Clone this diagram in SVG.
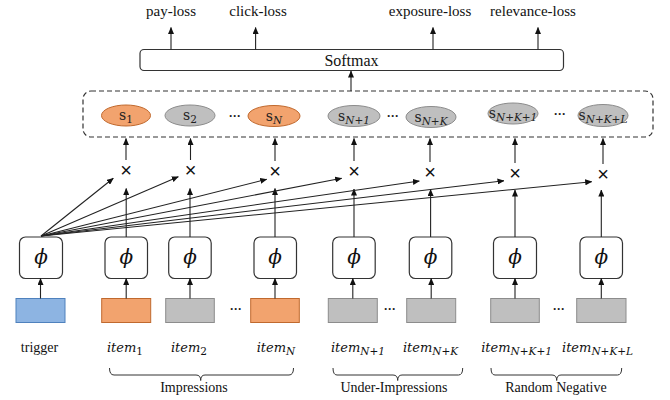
<svg xmlns="http://www.w3.org/2000/svg" width="670" height="400" viewBox="0 0 670 400">
<defs>
<marker id="ah" markerWidth="7" markerHeight="6" refX="6.5" refY="3" orient="auto" markerUnits="userSpaceOnUse">
<path d="M0,0 L7,3 L0,6 Z" fill="#111"/>
</marker>
<style>
.lbl{font-family:"Liberation Serif",serif;font-size:15px;fill:#111}
.cap{font-family:"Liberation Serif",serif;font-size:14px;fill:#111}
.math{font-family:"DejaVu Serif","Liberation Serif",serif;font-style:italic;font-size:13px;fill:#111}
.sl{font-family:"DejaVu Serif","Liberation Serif",serif;font-size:14px;fill:#222}
.sub{font-size:10.5px;font-style:italic}
.subn{font-size:10.5px}
.x{font-family:"Liberation Sans",sans-serif;font-size:20px;fill:#111}
.dots{font-family:"Liberation Sans",sans-serif;font-size:12px;fill:#222;font-weight:bold}
.phi{fill:#fff;stroke:#333;stroke-width:1.2}
.phit{font-family:"DejaVu Serif","Liberation Serif",serif;font-style:italic;font-size:20px;fill:#111}
.or{fill:#F2A36E;stroke:#C0692E;stroke-width:1}
.gr{fill:#BFBFBF;stroke:#8C8C8C;stroke-width:1}
.bl{fill:#8DB4E2;stroke:#4F81BD;stroke-width:1}
.ar{stroke:#222;stroke-width:1.1;fill:none;marker-end:url(#ah)}
.br{stroke:#333;stroke-width:1;fill:none}
</style>
</defs>

<g id="losses">
<text class="lbl" x="171" y="16" text-anchor="middle">pay-loss</text>
<text class="lbl" x="258" y="16" text-anchor="middle">click-loss</text>
<text class="lbl" x="430" y="16" text-anchor="middle">exposure-loss</text>
<text class="lbl" x="533" y="16" text-anchor="middle">relevance-loss</text>
</g>

<g id="softmax">
<rect x="140" y="49.5" width="423.5" height="21" rx="4" fill="#fff" stroke="#333" stroke-width="1.2"/>
<text class="lbl" x="351.5" y="65.5" text-anchor="middle" style="font-size:16px">Softmax</text>
</g>

<g id="scores">
<rect x="83" y="91" width="570" height="46" rx="8" fill="none" stroke="#333" stroke-width="1.2" stroke-dasharray="5,3"/>
<ellipse class="or" cx="126" cy="115.5" rx="24.5" ry="10.5"/>
<text class="sl" x="126" y="120" text-anchor="middle">s<tspan class="subn" dy="3">1</tspan></text>
<ellipse class="gr" cx="190" cy="115.5" rx="25" ry="10.5"/>
<text class="sl" x="190" y="120" text-anchor="middle">s<tspan class="subn" dy="3">2</tspan></text>
<text class="dots" x="235" y="120" text-anchor="middle">···</text>
<ellipse class="or" cx="274" cy="116" rx="26" ry="10.5"/>
<text class="sl" x="274" y="120.5" text-anchor="middle">s<tspan class="sub" dy="3">N</tspan></text>
<ellipse class="gr" cx="354" cy="116" rx="26" ry="10.5"/>
<text class="sl" x="354" y="120.5" text-anchor="middle">s<tspan class="sub" dy="3">N+1</tspan></text>
<text class="dots" x="393" y="120" text-anchor="middle">···</text>
<ellipse class="gr" cx="431" cy="117" rx="25" ry="10.5"/>
<text class="sl" x="431" y="121.5" text-anchor="middle">s<tspan class="sub" dy="3">N+K</tspan></text>
<ellipse class="gr" cx="513" cy="113.5" rx="25" ry="10.5"/>
<text class="sl" x="513" y="118" text-anchor="middle">s<tspan class="sub" dy="3">N+K+1</tspan></text>
<text class="dots" x="560" y="118" text-anchor="middle">···</text>
<ellipse class="gr" cx="603" cy="115.5" rx="25" ry="11"/>
<text class="sl" x="603" y="120" text-anchor="middle">s<tspan class="sub" dy="3">N+K+L</tspan></text>
</g>

<g id="crosses">
<text class="x" x="126" y="177" text-anchor="middle">×</text>
<text class="x" x="190.5" y="177" text-anchor="middle">×</text>
<text class="x" x="275" y="178" text-anchor="middle">×</text>
<text class="x" x="354" y="178" text-anchor="middle">×</text>
<text class="x" x="430" y="179" text-anchor="middle">×</text>
<text class="x" x="515" y="180" text-anchor="middle">×</text>
<text class="x" x="603" y="181" text-anchor="middle">×</text>
</g>

<g id="phi-trigger"><rect class="phi" x="19.5" y="237" width="43" height="41.5" rx="6"/><text class="phit" x="41" y="264" text-anchor="middle">ϕ</text></g>
<g id="phi-1"><rect class="phi" x="105" y="237" width="42.5" height="41.5" rx="6"/><text class="phit" x="126.2" y="264" text-anchor="middle">ϕ</text></g>
<g id="phi-2"><rect class="phi" x="168.7" y="237" width="42.5" height="41.5" rx="6"/><text class="phit" x="190" y="264" text-anchor="middle">ϕ</text></g>
<g id="phi-N"><rect class="phi" x="254" y="237" width="42.5" height="41.5" rx="6"/><text class="phit" x="275" y="264" text-anchor="middle">ϕ</text></g>
<g id="phi-N1"><rect class="phi" x="332.7" y="237" width="42.5" height="41.5" rx="6"/><text class="phit" x="354" y="264" text-anchor="middle">ϕ</text></g>
<g id="phi-NK"><rect class="phi" x="409.3" y="237" width="42.5" height="41.5" rx="6"/><text class="phit" x="430.6" y="264" text-anchor="middle">ϕ</text></g>
<g id="phi-NK1"><rect class="phi" x="493.5" y="237" width="43" height="41.5" rx="6"/><text class="phit" x="515" y="264" text-anchor="middle">ϕ</text></g>
<g id="phi-NKL"><rect class="phi" x="580" y="237" width="42.5" height="41.5" rx="6"/><text class="phit" x="601.3" y="264" text-anchor="middle">ϕ</text></g>

<g id="items">
<rect class="bl" x="16" y="298.5" width="49" height="24"/>
<rect class="or" x="101.7" y="298.5" width="49" height="24"/>
<rect class="gr" x="165.7" y="298.5" width="48.6" height="24"/>
<text class="dots" x="236" y="313" text-anchor="middle">···</text>
<rect class="or" x="250.7" y="298.5" width="48.6" height="24"/>
<rect class="gr" x="328.3" y="298.5" width="49" height="24"/>
<text class="dots" x="390" y="313" text-anchor="middle">···</text>
<rect class="gr" x="406.7" y="298.5" width="49" height="24"/>
<rect class="gr" x="490.7" y="298.5" width="48.6" height="24"/>
<text class="dots" x="559" y="313" text-anchor="middle">···</text>
<rect class="gr" x="576.7" y="298.5" width="49.3" height="24"/>
</g>

<g id="labels">
<text class="cap" x="39.5" y="352" text-anchor="middle">trigger</text>
<text class="math" x="125" y="352" text-anchor="middle">item<tspan class="subn" dy="3" style="font-style:normal">1</tspan></text>
<text class="math" x="189" y="352" text-anchor="middle">item<tspan class="subn" dy="3" style="font-style:normal">2</tspan></text>
<text class="math" x="276" y="352" text-anchor="middle">item<tspan class="sub" dy="3">N</tspan></text>
<text class="math" x="358" y="352" text-anchor="middle">item<tspan class="sub" dy="3">N+1</tspan></text>
<text class="math" x="430.5" y="352" text-anchor="middle">item<tspan class="sub" dy="3">N+K</tspan></text>
<text class="math" x="516.5" y="352" text-anchor="middle">item<tspan class="sub" dy="3">N+K+1</tspan></text>
<text class="math" x="597.5" y="352" text-anchor="middle">item<tspan class="sub" dy="3">N+K+L</tspan></text>
<text class="cap" x="194" y="392" text-anchor="middle">Impressions</text>
<text class="cap" x="394" y="392" text-anchor="middle">Under-Impressions</text>
<text class="cap" x="556" y="392" text-anchor="middle">Random Negative</text>
</g>

<g id="braces">
<path class="br" d="M109.5,368 Q109.5,375 114,375 L196,375 Q200.7,375 200.7,380.5 Q200.7,375 205,375 L289,375 Q293.5,375 293.5,368"/>
<path class="br" d="M333,368 Q333,375 337,375 L393,375 Q397.7,375 397.7,380.5 Q397.7,375 402,375 L458.5,375 Q462.7,375 462.7,368"/>
<path class="br" d="M491,368 Q491,375 495,375 L552,375 Q556.7,375 556.7,380.5 Q556.7,375 561,375 L617.5,375 Q621.7,375 621.7,368"/>
</g>

<g id="connectors">
<line class="ar" x1="171" y1="49.5" x2="171" y2="27.5"/>
<line class="ar" x1="255.6" y1="49.5" x2="255.6" y2="27.5"/>
<line class="ar" x1="433" y1="49.5" x2="433" y2="27.5"/>
<line class="ar" x1="538" y1="49.5" x2="538" y2="27.5"/>
<line class="ar" x1="351" y1="91" x2="351" y2="71"/>

<line class="ar" x1="126" y1="160" x2="126" y2="138.5"/>
<line class="ar" x1="190.5" y1="160" x2="190.5" y2="138.5"/>
<line class="ar" x1="275" y1="161" x2="275" y2="138.5"/>
<line class="ar" x1="354" y1="161" x2="354" y2="138.5"/>
<line class="ar" x1="430" y1="162" x2="430" y2="138.5"/>
<line class="ar" x1="515" y1="163" x2="515" y2="138.5"/>
<line class="ar" x1="603" y1="164" x2="603" y2="138.5"/>

<line class="ar" x1="126.2" y1="237" x2="126.2" y2="188.5"/>
<line class="ar" x1="190" y1="237" x2="190" y2="188.5"/>
<line class="ar" x1="275" y1="237" x2="275" y2="188.5"/>
<line class="ar" x1="354" y1="237" x2="354" y2="189"/>
<line class="ar" x1="430.6" y1="237" x2="430.6" y2="189.5"/>
<line class="ar" x1="515" y1="237" x2="515" y2="190"/>
<line class="ar" x1="601.3" y1="237" x2="601.3" y2="190"/>

<line class="ar" x1="41" y1="236" x2="113.3" y2="178.3"/>
<line class="ar" x1="41" y1="236" x2="178.3" y2="176.7"/>
<line class="ar" x1="41" y1="236" x2="266.7" y2="179.3"/>
<line class="ar" x1="41" y1="236" x2="341.7" y2="178.3"/>
<line class="ar" x1="41" y1="236" x2="419.3" y2="181"/>
<line class="ar" x1="41" y1="236" x2="504" y2="180.7"/>
<line class="ar" x1="41" y1="236" x2="591.7" y2="181.7"/>

<line class="ar" x1="40.5" y1="298.5" x2="40.5" y2="278.5"/>
<line class="ar" x1="126.2" y1="298.5" x2="126.2" y2="278.5"/>
<line class="ar" x1="190" y1="298.5" x2="190" y2="278.5"/>
<line class="ar" x1="275" y1="298.5" x2="275" y2="278.5"/>
<line class="ar" x1="352.8" y1="298.5" x2="352.8" y2="278.5"/>
<line class="ar" x1="431.2" y1="298.5" x2="431.2" y2="278.5"/>
<line class="ar" x1="515" y1="298.5" x2="515" y2="278.5"/>
<line class="ar" x1="601.3" y1="298.5" x2="601.3" y2="278.5"/>
</g>
</svg>
